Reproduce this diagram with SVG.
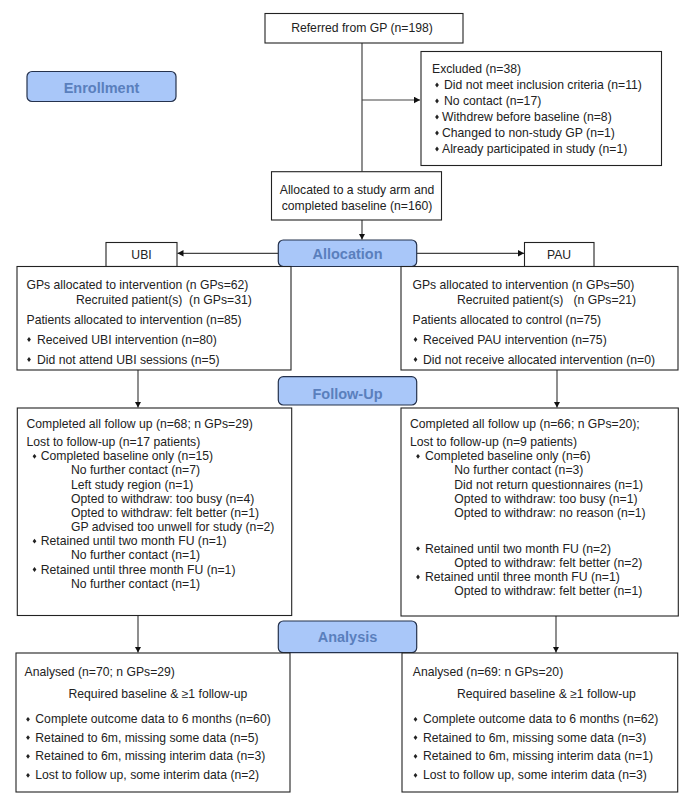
<svg xmlns="http://www.w3.org/2000/svg" width="689" height="807" viewBox="0 0 689 807">
<style>
.box{fill:#fff;stroke:#222;stroke-width:1.1}
.lab{fill:#a9c7f9;stroke:#25324d;stroke-width:1.2}
.lt{font-family:"Liberation Sans",Arial,sans-serif;font-weight:bold;font-size:14.5px;fill:#5a7fbd;text-anchor:middle}
.t{font-family:"Liberation Sans",Arial,sans-serif;font-size:12.2px;fill:#222;white-space:pre}
.c{text-anchor:middle}
.con{fill:none;stroke:#444;stroke-width:1.2}
.bul{fill:#222}
</style>
<defs>
<marker id="ah" markerUnits="userSpaceOnUse" markerWidth="8" markerHeight="8" refX="6" refY="3.3" orient="auto">
<path d="M0,0 L6,3.3 L0,6.6 z" fill="#111"/>
</marker>
<path id="b" d="M0,-2.4 L1.9,0 L0,2.4 L-1.9,0 z"/>
</defs>
<rect width="689" height="807" fill="#fff"/>

<g id="connectors">
<path class="con" d="M362,43 V171.7"/>
<path class="con" d="M362,100 H420" marker-end="url(#ah)"/>
<path class="con" d="M362,220 V239.5" marker-end="url(#ah)"/>
<path class="con" d="M278,253.3 H177.5" marker-end="url(#ah)"/>
<path class="con" d="M417,253.3 H524" marker-end="url(#ah)"/>
<path class="con" d="M138,370 V407.5" marker-end="url(#ah)"/>
<path class="con" d="M557,370 V407.5" marker-end="url(#ah)"/>
<path class="con" d="M138,616 V652.5" marker-end="url(#ah)"/>
<path class="con" d="M556,616 V652.5" marker-end="url(#ah)"/>
</g>

<g id="enrollment">
<rect class="lab" x="27" y="71.5" width="149" height="30" rx="5"/>
<text class="lt" x="101.5" y="92.5">Enrollment</text>
</g>

<g id="referred">
<rect class="box" x="265" y="13.5" width="198" height="29.5"/>
<text class="t c" x="362" y="32">Referred from GP (n=198)</text>
</g>

<g id="excluded">
<rect class="box" x="421" y="51.5" width="240.5" height="114"/>
<text class="t" x="432" y="72.5">Excluded (n=38)</text>
<use href="#b" class="bul" x="437" y="85"/>
<text class="t" x="444" y="89">Did not meet inclusion criteria (n=11)</text>
<use href="#b" class="bul" x="437" y="101"/>
<text class="t" x="444" y="105">No contact (n=17)</text>
<use href="#b" class="bul" x="437" y="117"/>
<text class="t" x="442" y="121">Withdrew before baseline (n=8)</text>
<use href="#b" class="bul" x="437" y="133"/>
<text class="t" x="442" y="137">Changed to non-study GP (n=1)</text>
<use href="#b" class="bul" x="437" y="149"/>
<text class="t" x="442" y="153">Already participated in study (n=1)</text>
</g>

<g id="allocated">
<rect class="box" x="271.5" y="171.7" width="170" height="48.3"/>
<text class="t c" x="357" y="193.5">Allocated to a study arm and</text>
<text class="t c" x="357" y="209.5">completed baseline (n=160)</text>
</g>

<g id="allocation">
<rect class="lab" x="278.3" y="240" width="138.4" height="26.5" rx="5"/>
<text class="lt" x="347.5" y="258.5">Allocation</text>
</g>

<g id="ubi">
<rect class="box" x="106" y="242.5" width="71" height="24"/>
<text class="t c" x="141.5" y="258.5">UBI</text>
</g>

<g id="pau">
<rect class="box" x="524.5" y="242.5" width="69.5" height="24"/>
<text class="t c" x="559" y="258.5">PAU</text>
</g>

<g id="alloc-ubi">
<rect class="box" x="17" y="266.5" width="274" height="103.5"/>
<text class="t" x="26.5" y="289">GPs allocated to intervention (n GPs=62)</text>
<text class="t" x="76" y="304">Recruited patient(s)  (n GPs=31)</text>
<text class="t" x="26.5" y="323.5">Patients allocated to intervention (n=85)</text>
<use href="#b" class="bul" x="29" y="339.5"/>
<text class="t" x="37" y="343.5">Received UBI intervention (n=80)</text>
<use href="#b" class="bul" x="29" y="359.5"/>
<text class="t" x="37" y="363.5">Did not attend UBI sessions (n=5)</text>
</g>

<g id="alloc-pau">
<rect class="box" x="401" y="266.5" width="277" height="103.5"/>
<text class="t" x="412.5" y="289">GPs allocated to intervention (n GPs=50)</text>
<text class="t" x="457" y="304">Recruited patient(s)   (n GPs=21)</text>
<text class="t" x="412.5" y="323.5">Patients allocated to control (n=75)</text>
<use href="#b" class="bul" x="415.5" y="339.5"/>
<text class="t" x="423" y="343.5">Received PAU intervention (n=75)</text>
<use href="#b" class="bul" x="415.5" y="359.5"/>
<text class="t" x="423" y="363.5">Did not receive allocated intervention (n=0)</text>
</g>

<g id="followup">
<rect class="lab" x="278.3" y="376.7" width="138.4" height="28.3" rx="5"/>
<text class="lt" x="347.5" y="398.5">Follow-Up</text>
</g>

<g id="fu-ubi">
<rect class="box" x="17.3" y="408" width="274.4" height="207.5"/>
<text class="t" x="26.5" y="428">Completed all follow up (n=68; n GPs=29)</text>
<text class="t" x="26.5" y="446">Lost to follow-up (n=17 patients)</text>
<use href="#b" class="bul" x="34.5" y="456.3"/>
<text class="t" x="40.7" y="460.3">Completed baseline only (n=15)</text>
<text class="t" x="71" y="474.4">No further contact (n=7)</text>
<text class="t" x="71" y="488.6">Left study region (n=1)</text>
<text class="t" x="71" y="502.7">Opted to withdraw: too busy (n=4)</text>
<text class="t" x="71" y="516.9">Opted to withdraw: felt better (n=1)</text>
<text class="t" x="71" y="531">GP advised too unwell for study (n=2)</text>
<use href="#b" class="bul" x="34.5" y="541.2"/>
<text class="t" x="40.7" y="545.2">Retained until two month FU (n=1)</text>
<text class="t" x="71" y="559.3">No further contact (n=1)</text>
<use href="#b" class="bul" x="34.5" y="569.5"/>
<text class="t" x="40.7" y="573.5">Retained until three month FU (n=1)</text>
<text class="t" x="71" y="587.6">No further contact (n=1)</text>
</g>

<g id="fu-pau">
<rect class="box" x="401" y="408" width="277.3" height="208"/>
<text class="t" x="410" y="428">Completed all follow up (n=66; n GPs=20);</text>
<text class="t" x="410" y="446">Lost to follow-up (n=9 patients)</text>
<use href="#b" class="bul" x="418" y="456.3"/>
<text class="t" x="425" y="460.3">Completed baseline only (n=6)</text>
<text class="t" x="454.3" y="474.4">No further contact (n=3)</text>
<text class="t" x="454.3" y="488.6">Did not return questionnaires (n=1)</text>
<text class="t" x="454.3" y="502.7">Opted to withdraw: too busy (n=1)</text>
<text class="t" x="454.3" y="516.9">Opted to withdraw: no reason (n=1)</text>
<use href="#b" class="bul" x="418" y="548.6"/>
<text class="t" x="425" y="552.6">Retained until two month FU (n=2)</text>
<text class="t" x="454.3" y="566.7">Opted to withdraw: felt better (n=2)</text>
<use href="#b" class="bul" x="418" y="577"/>
<text class="t" x="425" y="581">Retained until three month FU (n=1)</text>
<text class="t" x="454.3" y="595">Opted to withdraw: felt better (n=1)</text>
</g>

<g id="analysis">
<rect class="lab" x="278.3" y="621" width="138.4" height="31.7" rx="5"/>
<text class="lt" x="347.5" y="641.5">Analysis</text>
</g>

<g id="an-ubi">
<rect class="box" x="16" y="653" width="274" height="139"/>
<text class="t" x="24.5" y="676">Analysed (n=70; n GPs=29)</text>
<text class="t" x="68.5" y="697.6">Required baseline &amp; ≥1 follow-up</text>
<use href="#b" class="bul" x="28" y="719.3"/>
<text class="t" x="35.3" y="723.3">Complete outcome data to 6 months (n=60)</text>
<use href="#b" class="bul" x="28" y="737.6"/>
<text class="t" x="35.3" y="741.6">Retained to 6m, missing some data (n=5)</text>
<use href="#b" class="bul" x="28" y="756.3"/>
<text class="t" x="35.3" y="760.3">Retained to 6m, missing interim data (n=3)</text>
<use href="#b" class="bul" x="28" y="775.3"/>
<text class="t" x="35.3" y="779.3">Lost to follow up, some interim data (n=2)</text>
</g>

<g id="an-pau">
<rect class="box" x="402" y="653" width="275.7" height="139"/>
<text class="t" x="412.8" y="676">Analysed (n=69: n GPs=20)</text>
<text class="t" x="457" y="697.6">Required baseline &amp; ≥1 follow-up</text>
<use href="#b" class="bul" x="415.5" y="719.3"/>
<text class="t" x="423" y="723.3">Complete outcome data to 6 months (n=62)</text>
<use href="#b" class="bul" x="415.5" y="737.6"/>
<text class="t" x="423" y="741.6">Retained to 6m, missing some data (n=3)</text>
<use href="#b" class="bul" x="415.5" y="756.3"/>
<text class="t" x="423" y="760.3">Retained to 6m, missing interim data (n=1)</text>
<use href="#b" class="bul" x="415.5" y="775.3"/>
<text class="t" x="423" y="779.3">Lost to follow up, some interim data (n=3)</text>
</g>
</svg>
